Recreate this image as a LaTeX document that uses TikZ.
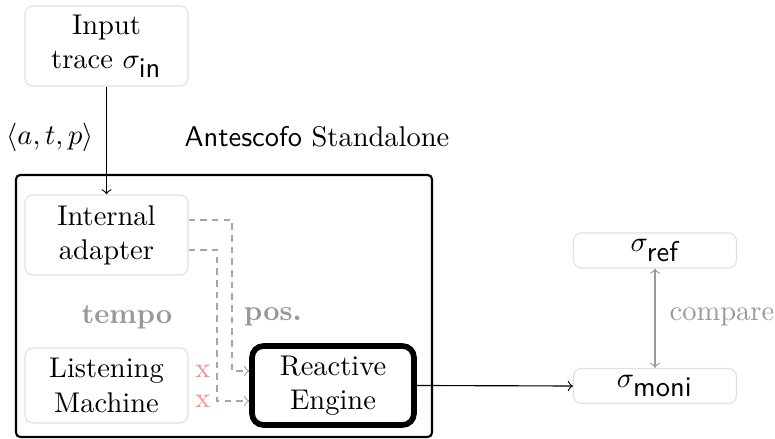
\documentclass[tikz,border=0pt]{standalone}
\usetikzlibrary{calc}
\begin{document}
\begin{tikzpicture}[x=0.3509pt,y=-0.3509pt,
  softbox/.style={draw=black!12,rounded corners=2.8pt,align=center,inner sep=0pt,
    minimum width=57.2pt},
  engine/.style={draw=black,line width=2pt,rounded corners=4pt,align=center,inner sep=0pt,
    minimum width=56.8pt,minimum height=27.7pt},
  dashlink/.style={draw=black!35,dash pattern=on 2.3pt off 1.8pt,->,line width=0.4pt},
  graylabel/.style={text=black!40},
  redmark/.style={text=red!45}]
\useasboundingbox (0,0) rectangle (775,439);
% outer frame
\draw[line width=0.75pt,rounded corners=1.5pt] (16,175) rectangle (432,437);
\node[softbox,minimum height=28.1pt] (in) at (106.5,46) {Input\\trace $\sigma_{\textsf{in}}$};
\node[softbox,minimum height=28.1pt] (ia) at (106.5,235) {Internal\\adapter};
\node[softbox,minimum height=26.3pt] (lm) at (106.5,385.5) {Listening\\Machine};
\node[engine] (re) at (333,385.5) {Reactive\\Engine};
\node[softbox,minimum height=12.3pt] (ref) at (655,250.5) {$\sigma_{\textsf{ref}}$};
\node[softbox,minimum height=12.3pt] (moni) at (655,386) {$\sigma_{\textsf{moni}}$};
\node (atp) at (50,137) {$\langle a,t,p\rangle$};
\node (title) at (317,137) {{\sffamily Antescofo} Standalone};
\node[graylabel,font=\bfseries] (tempo) at (127,317) {tempo};
\node[graylabel,font=\bfseries] (pos) at (273,317) {pos.};
\node[graylabel] (cmp) at (722,317) {compare};
\node[redmark] (x1) at (203,371) {x};
\node[redmark] (x2) at (203,401) {x};
\coordinate (c1) at (232,371);
\coordinate (c2) at (217,401);
\draw[->] (in.south) -- (ia.north);
\draw[dashlink] ($(ia.east)+(0,-15)$) -| (c1) -- (c1 -| re.west);
\draw[dashlink] ($(ia.east)+(0,15)$) -| (c2) -- (c2 -| re.west);
\draw[->] (re.east) -- (moni.west);
\draw[<->,black!40] (ref.south) -- (moni.north);
\end{tikzpicture}
\end{document}
